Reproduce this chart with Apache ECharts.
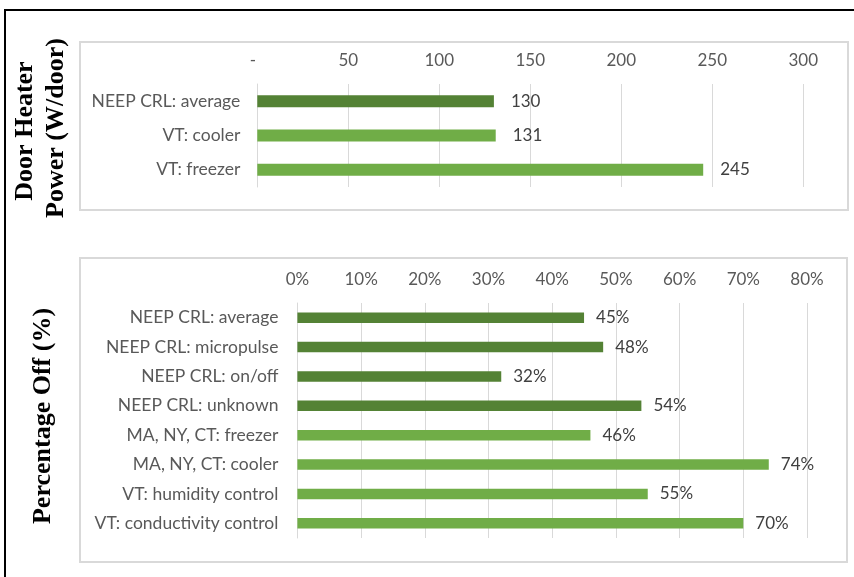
<!DOCTYPE html>
<html>
<head>
<meta charset="utf-8">
<script src="https://cdn.jsdelivr.net/npm/echarts@6/dist/echarts.min.js"></script>
<style>
  html, body { margin: 0; padding: 0; background: #fff; }
  #chart { width: 854px; height: 577px; }
</style>
</head>
<body>
<div id="chart"></div>
<script>
// Door heater power (W per door)
const powerCategories = ['NEEP CRL: average', 'VT: cooler', 'VT: freezer'];
const powerValues = [130, 131, 245];
const powerTicks = { min: 0, max: 300, interval: 50 };

// Share of time the door heater is off (%)
const offCategories = [
  'NEEP CRL: average', 'NEEP CRL: micropulse', 'NEEP CRL: on/off', 'NEEP CRL: unknown',
  'MA, NY, CT: freezer', 'MA, NY, CT: cooler', 'VT: humidity control', 'VT: conductivity control'
];
const offValues = [45, 48, 32, 54, 46, 74, 55, 70];
const offTicks = { min: 0, max: 80, interval: 10 };

const DARK = '#548235';
const LIGHT = '#70AD47';
const GRID_LINE = '#d9d9d9';
const SANS = 'Lato';
const SERIF = 'Liberation Serif';

// NEEP CRL study rows use the darker green
function barColor(name) {
  return name.indexOf('NEEP CRL') === 0 ? DARK : LIGHT;
}
function barData(cats, vals) {
  return vals.map((v, i) => ({ value: v, itemStyle: { color: barColor(cats[i]) } }));
}

const chart = echarts.init(document.getElementById('chart'), null, { renderer: 'canvas' });

const valueAxisBase = {
  type: 'value',
  position: 'top',
  axisLine: { show: false },
  axisTick: { show: false },
  splitLine: { show: true, lineStyle: { color: GRID_LINE, width: 1 } },
};
const catAxisBase = {
  type: 'category',
  inverse: true,
  axisLine: { show: true, lineStyle: { color: GRID_LINE, width: 1 } },
  axisTick: { show: false },
  axisLabel: { color: '#595959', fontFamily: SANS, fontSize: 17.5, margin: 17 },
};

chart.setOption({
  animation: false,
  backgroundColor: '#ffffff',
  grid: [
    { left: 257.3, right: 50.7, top: 84, bottom: 390 },
    { left: 297.4, right: 47, top: 303, bottom: 39 }
  ],
  xAxis: [
    Object.assign({}, valueAxisBase, {
      gridIndex: 0,
      min: powerTicks.min, max: powerTicks.max, interval: powerTicks.interval,
      axisLabel: {
        color: '#595959', fontFamily: SANS, fontSize: 17, margin: 15,
        formatter: v => (v === 0 ? '-  ' : String(v))
      }
    }),
    Object.assign({}, valueAxisBase, {
      gridIndex: 1,
      min: offTicks.min, max: offTicks.max, interval: offTicks.interval,
      axisLabel: {
        color: '#595959', fontFamily: SANS, fontSize: 17, margin: 15,
        formatter: '{value}%'
      }
    })
  ],
  yAxis: [
    Object.assign({}, catAxisBase, { gridIndex: 0, data: powerCategories }),
    Object.assign({}, catAxisBase, { gridIndex: 1, data: offCategories,
      axisLabel: Object.assign({}, catAxisBase.axisLabel, { margin: 19 }) })
  ],
  series: [
    {
      type: 'bar', xAxisIndex: 0, yAxisIndex: 0,
      data: barData(powerCategories, powerValues),
      barWidth: 12,
      label: {
        show: true, position: 'right', distance: 17,
        color: '#404040', fontFamily: SANS, fontSize: 17
      }
    },
    {
      type: 'bar', xAxisIndex: 1, yAxisIndex: 1,
      data: barData(offCategories, offValues),
      barWidth: 10.5,
      label: {
        show: true, position: 'right', distance: 12,
        color: '#404040', fontFamily: SANS, fontSize: 17,
        formatter: '{c}%'
      }
    }
  ],
  graphic: [
    // outer frame
    { type: 'rect', z: 100, shape: { x: 5, y: 10, width: 870, height: 600 },
      style: { fill: 'none', stroke: '#000', lineWidth: 2 } },
    // chart panels
    { type: 'rect', z: 100, shape: { x: 80, y: 42, width: 768, height: 168 },
      style: { fill: 'none', stroke: '#d9d9d9', lineWidth: 2 } },
    { type: 'rect', z: 100, shape: { x: 80, y: 258, width: 767, height: 304 },
      style: { fill: 'none', stroke: '#d9d9d9', lineWidth: 2 } },
    // vertical axis titles
    { type: 'text', z: 100, x: 25, y: 131, rotation: Math.PI / 2,
      style: { text: 'Door Heater', fill: '#000', fontFamily: SERIF, fontWeight: 'bold',
               fontSize: 26, textAlign: 'center', textVerticalAlign: 'middle' } },
    { type: 'text', z: 100, x: 56, y: 128, rotation: Math.PI / 2,
      style: { text: 'Power (W/door)', fill: '#000', fontFamily: SERIF, fontWeight: 'bold',
               fontSize: 26, textAlign: 'center', textVerticalAlign: 'middle' } },
    { type: 'text', z: 100, x: 43, y: 416, rotation: Math.PI / 2,
      style: { text: 'Percentage Off (%)', fill: '#000', fontFamily: SERIF, fontWeight: 'bold',
               fontSize: 26, textAlign: 'center', textVerticalAlign: 'middle' } }
  ]
});
</script>
</body>
</html>
